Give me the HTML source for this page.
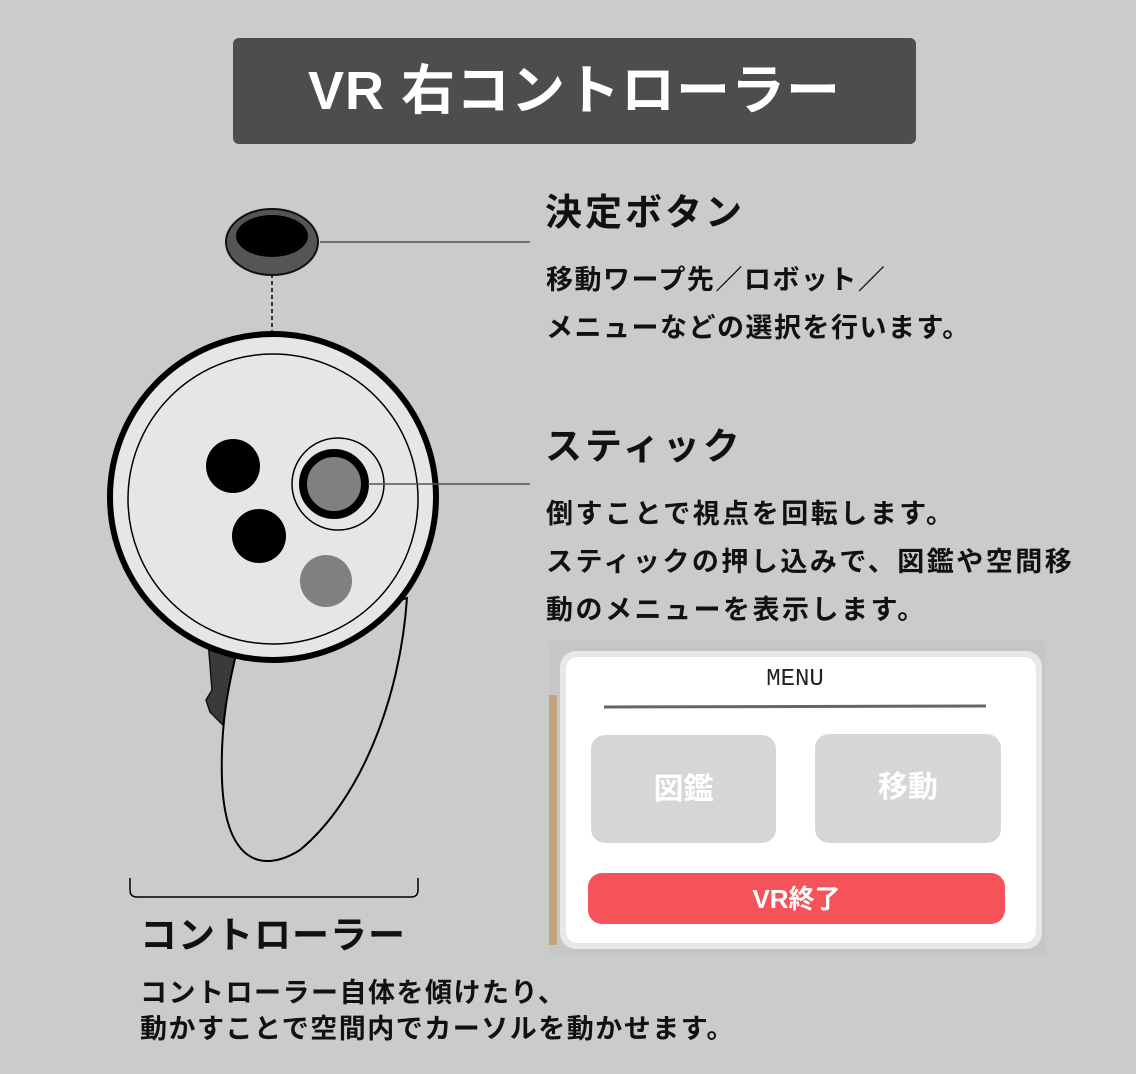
<!DOCTYPE html>
<html><head><meta charset="utf-8">
<style>
html,body{margin:0;padding:0;background:#cbcbcb;}
body{width:1136px;height:1074px;position:relative;overflow:hidden;font-family:"Liberation Sans","Noto Sans CJK JP",sans-serif;}
.t{position:absolute;white-space:nowrap;color:#111;font-weight:bold;}
</style></head><body>
<div style="position:absolute;left:233px;top:38px;width:683px;height:106px;background:#4d4d4d;border-radius:6px;"></div>
<div class="t" style="left:233px;width:683px;top:58px;text-align:center;color:#fff;font-size:54px;line-height:66px;letter-spacing:1px;">VR 右コントローラー</div>

<svg style="position:absolute;left:0;top:0" width="1136" height="1074">
 <line x1="272" y1="274" x2="272" y2="332" stroke="#333" stroke-width="2" stroke-dasharray="4,3"/>
 <line x1="320" y1="242" x2="530" y2="242" stroke="#555" stroke-width="1.5"/>
 <ellipse cx="272" cy="242" rx="46" ry="33" fill="#555" stroke="#111" stroke-width="2"/>
 <ellipse cx="272" cy="236" rx="36" ry="21" fill="#000"/>
 <path d="M208 640 L238 655 L226 728 L210 712 L206 700 L212 690 Z" fill="#3a3a3a" stroke="#111" stroke-width="1.5"/>
 <path d="M407 598 C400 700 360 800 300 850 C260 875 225 860 222 780 C220 720 230 680 237 650 Z" fill="#cbcbcb" stroke="#000" stroke-width="2"/>
 <circle cx="273" cy="497" r="163" fill="#e6e6e6" stroke="#000" stroke-width="6"/>
 <circle cx="273" cy="499" r="145" fill="none" stroke="#000" stroke-width="1.5"/>
 <circle cx="233" cy="466" r="27" fill="#000"/>
 <circle cx="259" cy="536" r="27" fill="#000"/>
 <circle cx="326" cy="581" r="26" fill="#808080"/>
 <circle cx="338" cy="484" r="46" fill="none" stroke="#000" stroke-width="1.5"/>
 <circle cx="334" cy="484" r="31" fill="#808080" stroke="#000" stroke-width="8"/>
 <line x1="368" y1="484" x2="530" y2="484" stroke="#555" stroke-width="1.5"/>
 <path d="M130 878 L130 890 Q130 897 137 897 L411 897 Q418 897 418 890 L418 878" fill="none" stroke="#000" stroke-width="1.5"/>
 <rect x="549" y="641" width="496" height="314" fill="#c6c6c6"/>
 <rect x="549" y="695" width="8" height="250" fill="#c2a47c"/>
 <rect x="560" y="651" width="482" height="298" rx="16" fill="#e8e8e8"/>
 <rect x="566" y="657" width="470" height="286" rx="12" fill="#fff"/>
 <line x1="604" y1="707" x2="986" y2="706" stroke="#666" stroke-width="3"/>
 <rect x="591" y="735" width="185" height="108" rx="14" fill="#d6d6d6"/>
 <rect x="815" y="734" width="186" height="109" rx="14" fill="#d6d6d6"/>
 <rect x="588" y="873" width="417" height="51" rx="14" fill="#f5525a"/>
</svg>
<div class="t" style="left:560px;width:470px;top:665px;text-align:center;font-family:'Liberation Mono','Noto Sans CJK JP',monospace;font-weight:normal;font-size:24px;line-height:30px;color:#222;">MENU</div>
<div class="t" style="left:591px;width:185px;top:770px;text-align:center;color:#fff;font-size:30px;line-height:40px;">図鑑</div>
<div class="t" style="left:815px;width:186px;top:768px;text-align:center;color:#fff;font-size:30px;line-height:40px;">移動</div>
<div class="t" style="left:588px;width:417px;top:882px;text-align:center;color:#fff;font-size:26px;line-height:34px;">VR終了</div>

<div class="t" style="left:545px;top:188px;font-size:37px;line-height:50px;letter-spacing:3px;">決定ボタン</div>
<div class="t" style="left:546px;top:261px;font-size:27px;line-height:38px;letter-spacing:1.5px;">移動ワープ先／ロボット／</div>
<div class="t" style="left:546px;top:309px;font-size:27px;line-height:38px;letter-spacing:1.5px;">メニューなどの選択を行います。</div>
<div class="t" style="left:545px;top:422px;font-size:37px;line-height:50px;letter-spacing:3px;">スティック</div>
<div class="t" style="left:546px;top:495px;font-size:27px;line-height:38px;letter-spacing:2.5px;">倒すことで視点を回転します。</div>
<div class="t" style="left:546px;top:543px;font-size:27px;line-height:38px;letter-spacing:2.5px;">スティックの押し込みで、図鑑や空間移</div>
<div class="t" style="left:546px;top:591px;font-size:27px;line-height:38px;letter-spacing:2.5px;">動のメニューを表示します。</div>
<div class="t" style="left:140px;top:911px;font-size:37px;line-height:50px;letter-spacing:1px;">コントローラー</div>
<div class="t" style="left:140px;top:975px;font-size:27px;line-height:36px;letter-spacing:1.5px;">コントローラー自体を傾けたり、</div>
<div class="t" style="left:140px;top:1011px;font-size:27px;line-height:36px;letter-spacing:1.5px;">動かすことで空間内でカーソルを動かせます。</div>
</body></html>
